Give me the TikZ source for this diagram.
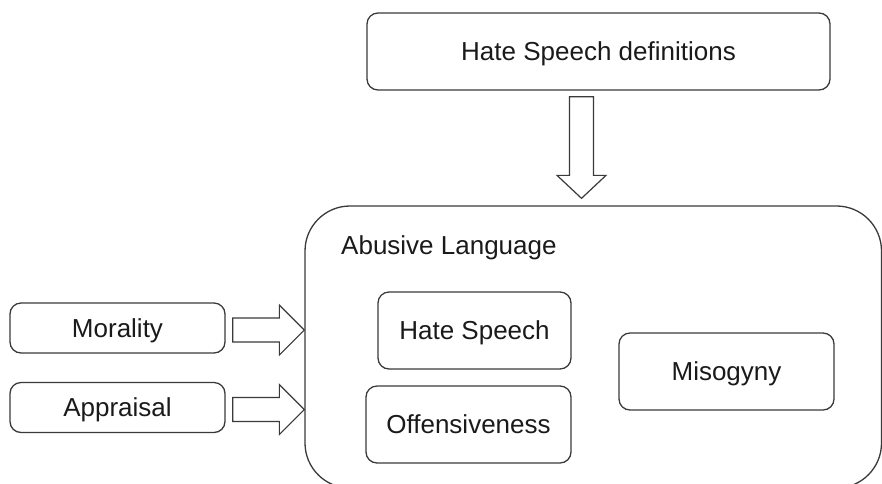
\documentclass[tikz,border=0pt]{standalone}
\usepackage{fontspec}
\setmainfont{Liberation Sans}
\usetikzlibrary{calc}
\definecolor{linec}{HTML}{3A3A3A}
\definecolor{textc}{HTML}{1A1A1A}
\begin{document}
\begin{tikzpicture}[x=1pt,y=-1pt,
  box/.style={draw=linec, line width=1.3pt, rounded corners=11pt, inner sep=0pt,
    font=\fontsize{26}{30}\selectfont, text=textc, text height=18.6pt, text depth=0pt},
  bigbox/.style={draw=linec, line width=1.3pt, rounded corners=45pt, inner sep=0pt},
  blockarrow/.style={draw=linec, line width=1.2pt, fill=white, line join=miter}]
\useasboundingbox (0,0) rectangle (882,483);
\clip (0,0) rectangle (882,483);

% boxes
\node[box, minimum width=463pt, minimum height=77pt] (hsd) at (598.5,51.5) {Hate Speech definitions};
\node[bigbox, minimum width=576.5pt, minimum height=282pt] (abuse) at (593.25,347) {};
\node[anchor=base west, inner sep=0pt, font=\fontsize{26}{30}\selectfont, text=textc]
  (abusetitle) at (341,254) {Abusive Language};
\node[box, minimum width=193pt, minimum height=77pt] (hs)  at (474.5,330.5) {Hate Speech};
\node[box, minimum width=205pt, minimum height=77pt] (off) at (468.5,424.5) {Offensiveness};
\node[box, minimum width=215pt, minimum height=77pt] (mis) at (726.5,371.5) {Misogyny};
\node[box, minimum width=215pt, minimum height=50pt] (mor) at (117.5,328) {Morality};
\node[box, minimum width=215pt, minimum height=50pt] (app) at (117.5,407.5) {Appraisal};

% block arrow from the definitions down into the abusive language box
\coordinate (dtop) at ($(hsd.south)+(-17,6)$);
\coordinate (dtip) at ($(dtop |- abuse.north)+(0,-7)$);
\draw[blockarrow] ($(dtop)+(-12,0)$) -- ($(dtop)+(12,0)$) -- ($(dtip)+(12,-23)$)
  -- ($(dtip)+(24.5,-23)$) -- (dtip) -- ($(dtip)+(-24.5,-23)$) -- ($(dtip)+(-12,-23)$) -- cycle;

% block arrows from the left boxes into the abusive language box
\foreach \src/\dy in {mor/2, app/2}{
  \coordinate (tail) at ($(\src.east)+(7,\dy)$);
  \coordinate (tip) at (tail -| abuse.west);
  \draw[blockarrow] ($(tail)+(0,-12)$) -- ($(tip)+(-25,-12)$) -- ($(tip)+(-25,-25)$)
    -- (tip) -- ($(tip)+(-25,25)$) -- ($(tip)+(-25,12)$) -- ($(tail)+(0,12)$) -- cycle;
}
\end{tikzpicture}
\end{document}
